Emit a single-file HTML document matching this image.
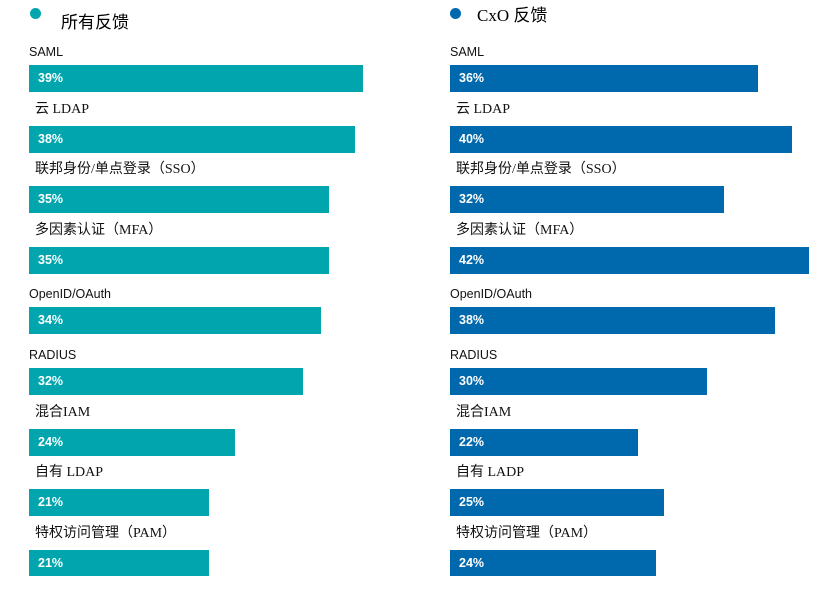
<!DOCTYPE html>
<html><head><meta charset="utf-8"><style>
body{margin:0;width:829px;height:601px;background:#fff;position:relative;overflow:hidden;font-family:"Liberation Sans","Noto Sans CJK SC",sans-serif}
.a{position:absolute;white-space:nowrap}
.lat{font-size:12.5px;color:#111}
.cjk{font-size:14px;color:#111;font-family:"Liberation Serif","Noto Sans CJK SC",serif}
.bar{position:absolute;height:27px;color:#fff;font-weight:bold;font-size:12.5px;line-height:27px;box-sizing:border-box;padding-left:9px}
.t{background:#00A5AD}.b{background:#0068AD}
.dot{position:absolute;width:11px;height:11px;border-radius:50%}
</style></head><body>
<div class="dot t" style="left:30px;top:8px"></div>
<div class="a" style="left:61px;top:8px;font-size:17px;font-family:'Noto Sans CJK SC',sans-serif">所有反馈</div>
<div class="dot b" style="left:450px;top:8px"></div>
<div class="a" style="left:477px;top:1px;font-size:17px;font-family:'Liberation Serif','Noto Sans CJK SC',serif">CxO 反馈</div>
<div id="c"></div>
<script>
var rows=[["SAML",0,39,36,363,758],["云 LDAP",1,38,40,355,792],["联邦身份/单点登录（SSO）",1,35,32,329,724],["多因素认证（MFA）",1,35,42,329,809],["OpenID/OAuth",0,34,38,321,775],["RADIUS",0,32,30,303,707],["混合IAM",1,24,22,235,638],["自有 LDAP",1,21,25,209,664],["特权访问管理（PAM）",1,21,24,209,656]];
var h="";
rows.forEach(function(r,i){
 var y=65+Math.round(i*60.6);
 var labs=[r[0],i==7?"自有 LADP":r[0]];
 [[29,r[2],r[4],"t",0],[450,r[3],r[5],"b",1]].forEach(function(s){
  var cls=r[1]?"cjk":"lat";
  var lx=s[0]+(r[1]?6:0);
  var ly=r[1]?y-28:y-20;
  h+='<div class="a '+cls+'" style="left:'+lx+'px;top:'+ly+'px">'+labs[s[4]]+'</div>';
  var bh=(i==8)?26:27;
  h+='<div class="bar '+s[3]+'" style="left:'+s[0]+'px;top:'+y+'px;width:'+(s[2]-s[0])+'px;height:'+bh+'px">'+s[1]+'%</div>';
 });
});
document.getElementById("c").innerHTML=h;
</script>
</body></html>
